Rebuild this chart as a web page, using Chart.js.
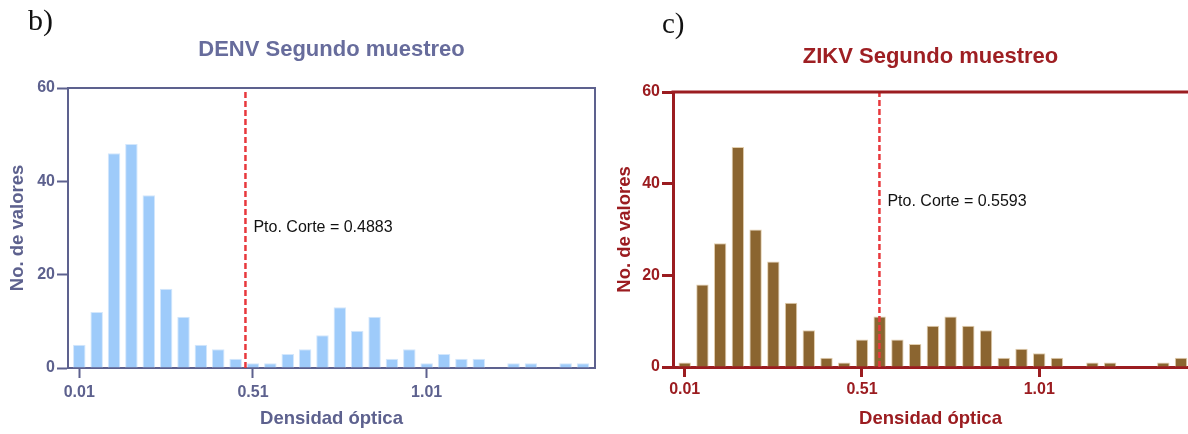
<!DOCTYPE html>
<html>
<head>
<meta charset="utf-8">
<script src="https://cdn.jsdelivr.net/npm/chart.js@4.4.1/dist/chart.umd.min.js"></script>
<style>
  html, body { margin: 0; padding: 0; background: #ffffff; width: 1188px; height: 434px; overflow: hidden; }
  .panel { position: absolute; top: 0; height: 434px; }
  #denvPanel { left: 0; width: 600px; }
  #zikvPanel { left: 600px; width: 588px; }
</style>
</head>
<body>
<div class="panel" id="denvPanel"><canvas id="denvChart" width="600" height="434"></canvas></div>
<div class="panel" id="zikvPanel"><canvas id="zikvChart" width="588" height="434"></canvas></div>
<script>
// Histogram bin centres (optical density) shared by both panels
const binCenters = [0.01, 0.06, 0.11, 0.16, 0.21, 0.26, 0.31, 0.36, 0.41, 0.46,
                    0.51, 0.56, 0.61, 0.66, 0.71, 0.76, 0.81, 0.86, 0.91, 0.96,
                    1.01, 1.06, 1.11, 1.16, 1.21, 1.26, 1.31, 1.36, 1.41, 1.46];

// Number of samples per bin
const denvCounts = [5, 12, 46, 48, 37, 17, 11, 5, 4, 2,
                    1, 1, 3, 4, 7, 13, 8, 11, 2, 4,
                    1, 3, 2, 2, 0, 1, 1, 0, 1, 1];
const zikvCounts = [1, 18, 27, 48, 30, 23, 14, 8, 2, 1,
                    6, 11, 6, 5, 9, 11, 9, 8, 2, 4,
                    3, 2, 0, 1, 1, 0, 0, 1, 2];

// Cut-off points
const denvCutoff = 0.4883;
const zikvCutoff = 0.5593;

// Axis tick labels
const xTickValues = [0.01, 0.51, 1.01];
const yTickValues = [0, 20, 40, 60];

const SANS = '"Liberation Sans", Arial, Helvetica, sans-serif';
const SERIF = '"Liberation Serif", "Times New Roman", serif';

// Panel letter (b, c) in the top-left corner
const panelLetter = {
  id: 'panelLetter',
  afterDraw(chart, args, opts) {
    const ctx = chart.ctx;
    ctx.save();
    ctx.font = `${opts.size}px ${SERIF}`;
    ctx.fillStyle = '#111111';
    ctx.textBaseline = 'alphabetic';
    ctx.textAlign = 'left';
    ctx.fillText(opts.text, opts.x, opts.y);
    ctx.restore();
  }
};

// Top (and optionally right) edge of the plotting frame
const frameEdges = {
  id: 'frameEdges',
  afterDatasetsDraw(chart, args, opts) {
    const { ctx, chartArea } = chart;
    const { left, right, top, bottom } = chartArea;
    ctx.save();
    ctx.strokeStyle = opts.color;
    ctx.lineWidth = opts.width;
    ctx.lineCap = 'butt';
    ctx.beginPath();
    ctx.moveTo(left - opts.width / 2, top);
    if (opts.rightEdge) {
      ctx.lineTo(right, top);
      ctx.lineTo(right, bottom + opts.width / 2);
    } else {
      ctx.lineTo(chart.width, top);
    }
    ctx.stroke();
    ctx.restore();
  }
};

// Text next to the cut-off line
const cutoffLabel = {
  id: 'cutoffLabel',
  afterDatasetsDraw(chart, args, opts) {
    const { ctx, scales } = chart;
    const px = scales.x.getPixelForValue(opts.value);
    const py = scales.y.getPixelForValue(opts.labelY);
    ctx.save();
    ctx.font = `16px ${SANS}`;
    ctx.fillStyle = '#111111';
    ctx.textBaseline = 'middle';
    ctx.textAlign = 'left';
    ctx.fillText('Pto. Corte = ' + opts.value.toFixed(4), px + opts.gap, py);
    ctx.restore();
  }
};

function buildChart(canvasId, cfg) {
  const barData = cfg.counts.map((c, i) => ({ x: binCenters[i], y: c }));
  const tickFont = { family: SANS, size: 16, weight: 'bold' };
  const titleFont = { family: SANS, size: 18.5, weight: 'bold' };

  return new Chart(document.getElementById(canvasId), {
    data: {
      datasets: [
        {
          type: 'bar',
          data: barData,
          backgroundColor: cfg.barFill,
          borderColor: cfg.barEdge,
          borderWidth: 1,
          barPercentage: cfg.barPct,
          categoryPercentage: 1.0,
          order: 2
        },
        {
          type: 'line',
          data: [{ x: cfg.cutoff, y: 0 }, { x: cfg.cutoff, y: 60 }],
          borderColor: '#e8383d',
          borderWidth: 2.5,
          borderDash: [6, 3],
          pointRadius: 0,
          fill: false,
          order: 1
        }
      ]
    },
    options: {
      responsive: false,
      animation: false,
      events: [],
      layout: { padding: { left: 0, right: cfg.padRight, top: 0, bottom: 0 } },
      scales: {
        x: {
          type: 'linear',
          offset: false,
          bounds: 'data',
          min: cfg.xMin,
          max: cfg.xMax,
          afterBuildTicks: s => { s.ticks = xTickValues.map(v => ({ value: v })); },
          afterFit: s => { s.height = cfg.xAxisHeight; },
          ticks: {
            autoSkip: false,
            maxRotation: 0,
            padding: cfg.xTickPad,
            color: cfg.textColor,
            font: tickFont,
            callback: v => v.toFixed(2)
          },
          grid: {
            display: true,
            offset: false,
            drawOnChartArea: false,
            drawTicks: true,
            tickLength: 10,
            tickWidth: cfg.axisWidth,
            tickColor: cfg.axisColor,
            color: cfg.axisColor
          },
          border: { display: true, color: cfg.axisColor, width: cfg.axisWidth },
          title: {
            display: true,
            text: 'Densidad óptica',
            color: cfg.textColor,
            font: titleFont,
            padding: { top: 0, bottom: 4 }
          }
        },
        y: {
          type: 'linear',
          offset: false,
          min: 0,
          max: 60,
          afterBuildTicks: s => { s.ticks = yTickValues.map(v => ({ value: v })); },
          afterFit: s => { s.width = cfg.yAxisWidth; },
          ticks: { padding: 2, color: cfg.textColor, font: tickFont },
          grid: {
            display: true,
            offset: false,
            drawOnChartArea: false,
            drawTicks: true,
            tickLength: 11,
            tickWidth: cfg.axisWidth,
            tickColor: cfg.axisColor,
            color: cfg.axisColor
          },
          border: { display: true, color: cfg.axisColor, width: cfg.axisWidth },
          title: {
            display: true,
            text: 'No. de valores',
            color: cfg.textColor,
            font: titleFont,
            padding: { top: cfg.yTitlePad, bottom: 0 }
          }
        }
      },
      plugins: {
        legend: { display: false },
        tooltip: { enabled: false },
        title: {
          display: true,
          fullSize: false,
          text: cfg.title,
          color: cfg.titleColor,
          font: { family: SANS, size: 22, weight: 'bold' },
          padding: { top: cfg.titlePadTop, bottom: cfg.titlePadBottom }
        },
        panelLetter: cfg.letter,
        frameEdges: { color: cfg.axisColor, width: cfg.axisWidth, rightEdge: cfg.rightEdge },
        cutoffLabel: { value: cfg.cutoff, labelY: cfg.labelY, gap: 8 }
      }
    },
    plugins: [panelLetter, frameEdges, cutoffLabel]
  });
}

buildChart('denvChart', {
  title: 'DENV Segundo muestreo',
  counts: denvCounts,
  cutoff: denvCutoff,
  labelY: 30,
  xMin: -0.0225,
  xMax: 1.4945,
  barPct: 0.72,
  barFill: '#9ecbfa',
  barEdge: '#d3e7fc',
  axisColor: '#5d618e',
  axisWidth: 2,
  textColor: '#5d618e',
  titleColor: '#676c9c',
  padRight: 5,
  yAxisWidth: 68,
  xAxisHeight: 66,
  xTickPad: 5,
  yTitlePad: 7,
  titlePadTop: 36.8,
  titlePadBottom: 24.8,
  rightEdge: true,
  letter: { text: 'b)', x: 28, y: 30, size: 30 }
});

buildChart('zikvChart', {
  title: 'ZIKV Segundo muestreo',
  counts: zikvCounts,
  cutoff: zikvCutoff,
  labelY: 36,
  xMin: -0.023,
  xMax: 1.4297,
  barPct: 0.70,
  barFill: '#8b6530',
  barEdge: '#e3cfae',
  axisColor: '#9b1c20',
  axisWidth: 3,
  textColor: '#9b1c20',
  titleColor: '#9e1f23',
  padRight: 0,
  yAxisWidth: 73,
  xAxisHeight: 67,
  xTickPad: 3,
  yTitlePad: 14,
  titlePadTop: 43.8,
  titlePadBottom: 21.8,
  rightEdge: false,
  letter: { text: 'c)', x: 62, y: 33, size: 29 }
});
</script>
</body>
</html>
